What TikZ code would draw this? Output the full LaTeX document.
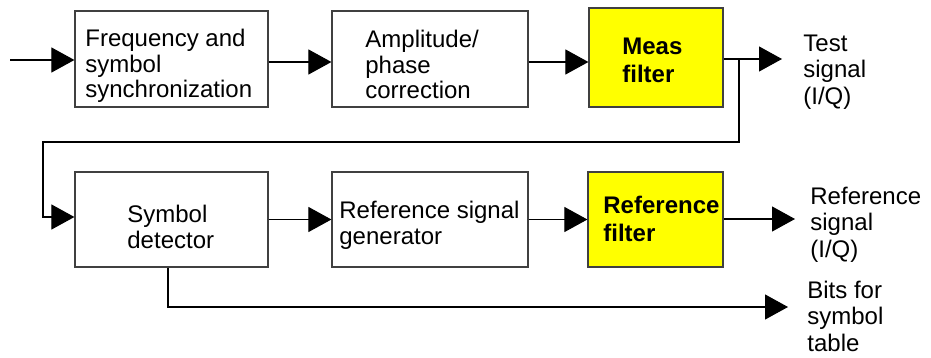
\documentclass[tikz,border=0pt]{standalone}
\usepackage{fontspec}
\setmainfont{Liberation Sans}
\usetikzlibrary{arrows.meta}
\definecolor{fillyel}{HTML}{FFFF00}
\definecolor{edgegray}{HTML}{404040}
\begin{document}
\begin{tikzpicture}[x=0.5pt,y=-0.5pt,
  blk/.style={draw=edgegray,line width=0.6pt,rectangle,inner sep=0pt},
  yel/.style={blk,fill=fillyel},
  txt/.style={anchor=north west,inner sep=0pt,align=left,font=\fontsize{12}{12.9}\selectfont},
  btxt/.style={txt,font=\fontsize{12}{14}\selectfont\bfseries},
  otxt/.style={txt,font=\fontsize{12}{13.2}\selectfont},
  con/.style={line width=0.55pt,black},
  arr/.style={con,-{Triangle[length=11.5pt,width=12.5pt]}}]
\useasboundingbox (0,0) rectangle (931,358);
% boxes
\node[blk,minimum width=96.5pt,minimum height=48pt] (b1) at (171.5,59) {};
\node[blk,minimum width=98pt,minimum height=48pt] (b2) at (430,59) {};
\node[yel,minimum width=67pt,minimum height=49.5pt] (b3) at (656,57.5) {};
\node[blk,minimum width=96.5pt,minimum height=47.5pt] (b4) at (171.5,219.5) {};
\node[blk,minimum width=98pt,minimum height=47.5pt] (b5) at (430,219.5) {};
\node[yel,minimum width=67.5pt,minimum height=47.5pt] (b6) at (655.5,219.5) {};
% texts
\node[txt] (t1) at (85,28.5) {Frequency and\\symbol\\synchronization};
\node[txt] (t2) at (365,29.5) {Amplitude/\\phase\\correction};
\node[btxt] (t3) at (622,37.5) {Meas\\filter};
\node[txt] (t4) at (127,204.5) {Symbol\\detector};
\node[txt] (t5) at (339,201) {Reference signal\\generator};
\node[btxt] (t6) at (603,195.5) {Reference\\filter};
\node[otxt] (t7) at (803,34.5) {Test\\signal\\(I/Q)};
\node[otxt] (t8) at (810,186.5) {Reference\\signal\\(I/Q)};
\node[otxt] (t9) at (807,280.5) {Bits for\\symbol\\table};
% coordinates
\coordinate (in) at (10,60);
\coordinate (testtip) at (782,59);
\coordinate (split) at (739,59);
\coordinate (c1) at (739,142);
\coordinate (c2) at (43,142);
\coordinate (c3) at (43,217);
\coordinate (reftip) at (795,219);
\coordinate (d1) at (168,307);
\coordinate (bitstip) at (788,307);
% connectors
\draw[arr] (in) -- (in -| b1.west);
\draw[arr] ([yshift=-1.5pt]b1.east) -- ([yshift=-1.5pt]b1.east -| b2.west);
\draw[arr] ([yshift=-1.5pt]b2.east) -- ([yshift=-1.5pt]b2.east -| b3.west);
\draw[arr] (b3.east |- testtip) -- (testtip);
\draw[arr] (split) -- (c1) -- (c2) -- (c3) -- (c3 -| b4.west);
\draw[arr] (b4.east) -- (b5.west);
\draw[arr] (b5.east) -- (b6.west);
\draw[arr] (b6.east |- reftip) -- (reftip);
\draw[arr] (d1 |- b4.south) -- (d1) -- (bitstip);
\end{tikzpicture}
\end{document}
